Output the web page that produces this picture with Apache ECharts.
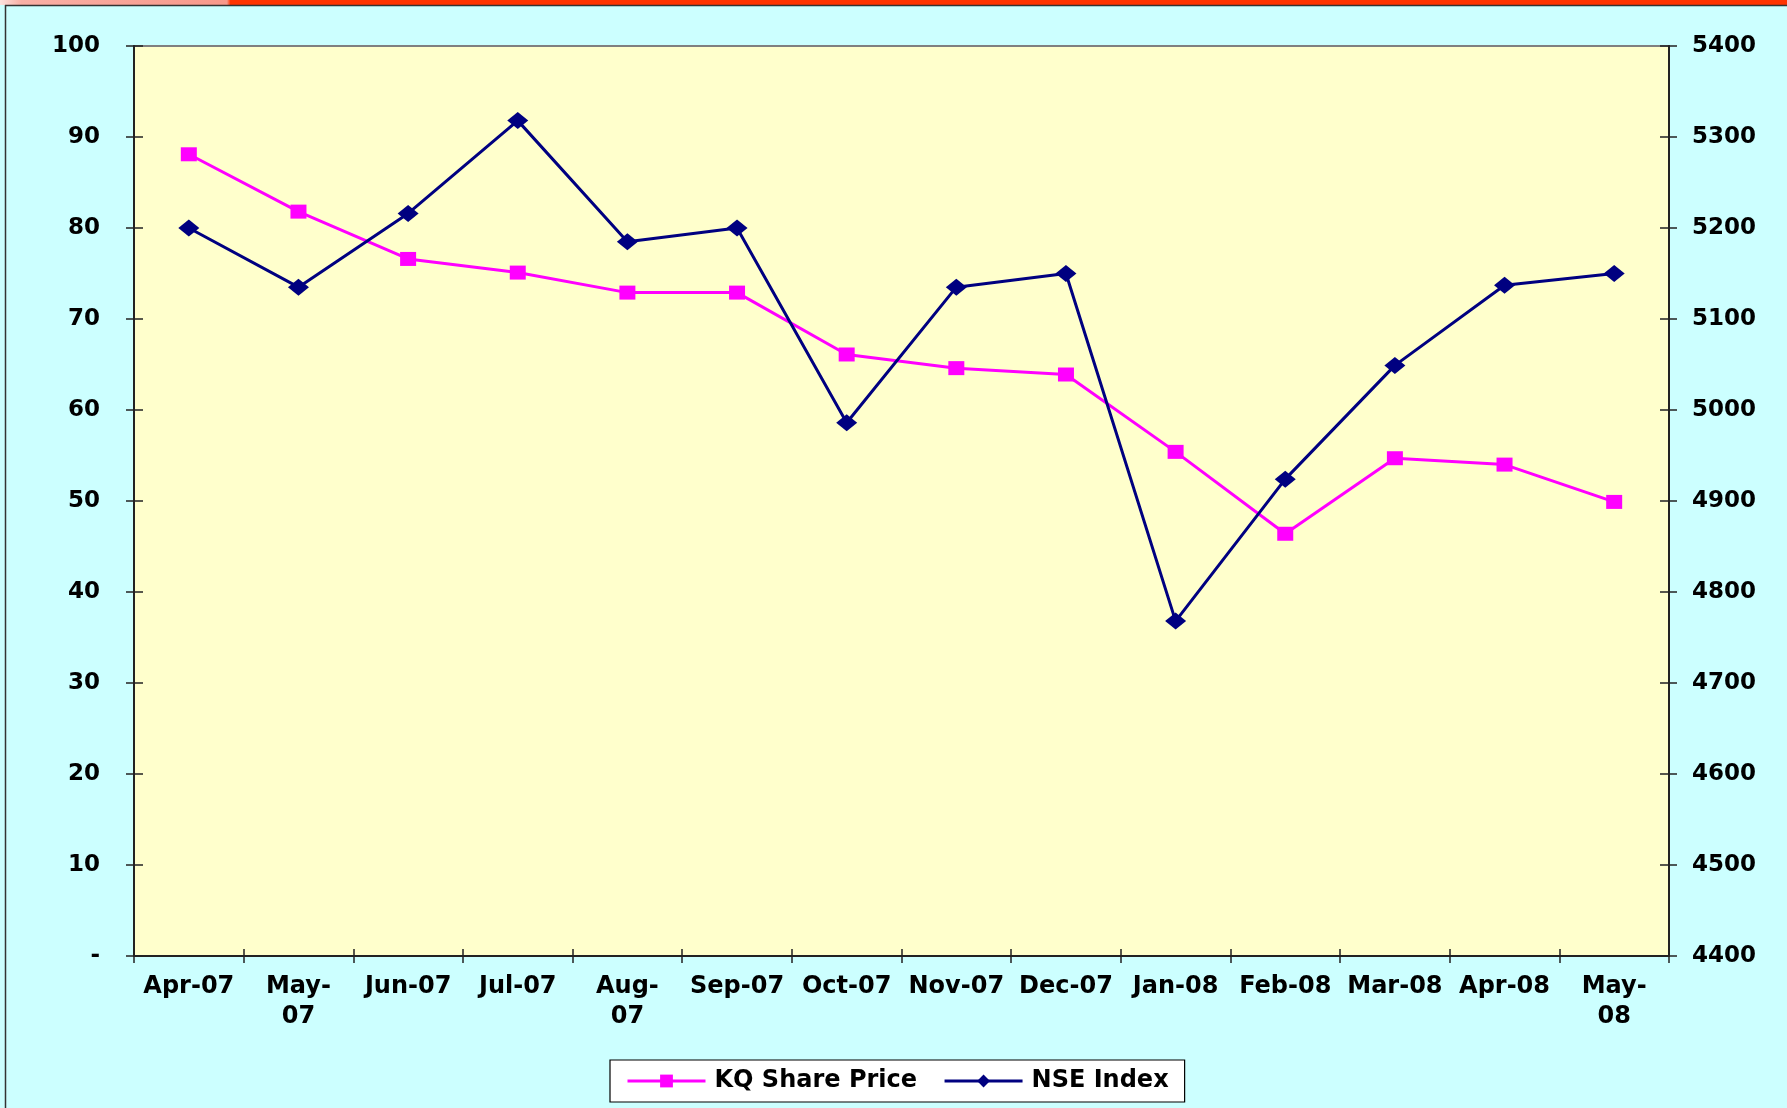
<!DOCTYPE html>
<html>
<head>
<meta charset="utf-8">
<script src="https://cdn.jsdelivr.net/npm/echarts@6/dist/echarts.min.js"></script>
<style>
  html, body { margin: 0; padding: 0; background: #CCFFFF; }
  #chart { width: 1787px; height: 1108px; }
</style>
</head>
<body>
<div id="chart"></div>
<script>
// ---- data ----
const categories = ['Apr-07','May-07','Jun-07','Jul-07','Aug-07','Sep-07','Oct-07','Nov-07','Dec-07','Jan-08','Feb-08','Mar-08','Apr-08','May-08'];
const xTickLabels = ['Apr-07','May-\n07','Jun-07','Jul-07','Aug-\n07','Sep-07','Oct-07','Nov-07','Dec-07','Jan-08','Feb-08','Mar-08','Apr-08','May-\n08'];
const kqSharePrice = [88.1, 81.8, 76.6, 75.1, 72.9, 72.9, 66.1, 64.6, 63.9, 55.4, 46.4, 54.7, 54.0, 49.9];
const nseIndex = [5200, 5135, 5216, 5318, 5185, 5200, 4986, 5135, 5150, 4768, 4924, 5049, 5137, 5150];
const leftAxisRange = [0, 100, 10];      // min, max, interval
const rightAxisRange = [4400, 5400, 100];
const seriesNames = ['KQ Share Price', 'NSE Index'];

// ---- chart ----
const FONT = 'DejaVu Sans';
const gridRect = { left: 134, right: 118, top: 46, bottom: 152 };
const tickColor = '#222';

const chart = echarts.init(document.getElementById('chart'), null, { renderer: 'canvas' });

function yAxisBase(gridIndex, pos, range, showLabel, inside, len, margin) {
  return {
    type: 'value', gridIndex: gridIndex, position: pos,
    min: range[0], max: range[1], interval: range[2],
    splitLine: { show: false },
    axisLine: { show: !inside, lineStyle: { color: '#222', width: 2 } },
    axisTick: { show: true, inside: inside, length: len, lineStyle: { color: tickColor, width: 1.5 } },
    axisLabel: {
      show: showLabel, margin: margin,
      fontFamily: FONT, fontWeight: 'bold', fontSize: 23, color: '#000',
      formatter: function (v) { return (pos === 'left' && v === 0) ? '-' : String(v); }
    }
  };
}

const option = {
  animation: false,
  backgroundColor: '#CCFFFF',
  grid: [
    Object.assign({ show: true, backgroundColor: '#FFFFCC', borderColor: '#808080', borderWidth: 2 }, gridRect),
    Object.assign({ show: false }, gridRect)
  ],
  xAxis: [
    {
      type: 'category', gridIndex: 0, data: categories, boundaryGap: true,
      axisLine: { lineStyle: { color: '#222', width: 2 } },
      axisTick: { show: true, length: 7, lineStyle: { color: tickColor, width: 1.5 } },
      axisLabel: {
        interval: 0, margin: 16, lineHeight: 30,
        fontFamily: FONT, fontWeight: 'bold', fontSize: 24, color: '#000',
        formatter: function (v, i) { return xTickLabels[i]; }
      },
      splitLine: { show: false }
    },
    {
      type: 'category', gridIndex: 1, data: categories, boundaryGap: true,
      axisLine: { show: false },
      axisTick: { show: true, inside: true, length: 7, lineStyle: { color: tickColor, width: 1.5 } },
      axisLabel: { show: false },
      splitLine: { show: false }
    }
  ],
  yAxis: [
    yAxisBase(0, 'left', leftAxisRange, true, false, 8, 34),
    yAxisBase(0, 'right', rightAxisRange, true, false, 8, 23),
    yAxisBase(1, 'left', leftAxisRange, false, true, 9, 0),
    yAxisBase(1, 'right', rightAxisRange, false, true, 9, 0)
  ],
  legend: {
    data: seriesNames,
    left: 610, top: 1060,
    padding: [9, 16],
    itemGap: 26,
    itemWidth: 78, itemHeight: 16,
    backgroundColor: '#FFFFFF',
    borderColor: '#000', borderWidth: 1.2, borderRadius: 0,
    lineStyle: { width: 3 },
    textStyle: { fontFamily: FONT, fontWeight: 'bold', fontSize: 24, color: '#000', padding: [0, 4, 0, 4] }
  },
  series: [
    {
      name: seriesNames[0], type: 'line', xAxisIndex: 0, yAxisIndex: 0,
      data: kqSharePrice,
      symbol: 'rect', symbolSize: [16, 14],
      itemStyle: { color: '#FF00FF' },
      lineStyle: { color: '#FF00FF', width: 3 },
      z: 3
    },
    {
      name: seriesNames[1], type: 'line', xAxisIndex: 0, yAxisIndex: 1,
      data: nseIndex,
      symbol: 'diamond', symbolSize: [21, 17],
      itemStyle: { color: '#000080' },
      lineStyle: { color: '#000080', width: 3 },
      z: 4
    }
  ],
  graphic: [
    {
      type: 'rect', left: 0, top: 0, z: 100,
      shape: { x: 0, y: 0, width: 1787, height: 5 },
      style: {
        fill: new echarts.graphic.LinearGradient(0, 0, 1, 0, [
          { offset: 0, color: '#FCE2DE' },
          { offset: 0.012, color: '#F9AFA5' },
          { offset: 0.127, color: '#F8988A' },
          { offset: 0.129, color: '#FF3300' },
          { offset: 1, color: '#FF3300' }
        ])
      }
    },
    {
      type: 'line', z: 100,
      shape: { x1: 5, y1: 5.5, x2: 1787, y2: 5.5 },
      style: { stroke: '#333', lineWidth: 1.5 }
    },
    {
      type: 'line', z: 100,
      shape: { x1: 5.5, y1: 5, x2: 5.5, y2: 1108 },
      style: { stroke: '#333', lineWidth: 1.5 }
    }
  ]
};
chart.setOption(option);
</script>
</body>
</html>
